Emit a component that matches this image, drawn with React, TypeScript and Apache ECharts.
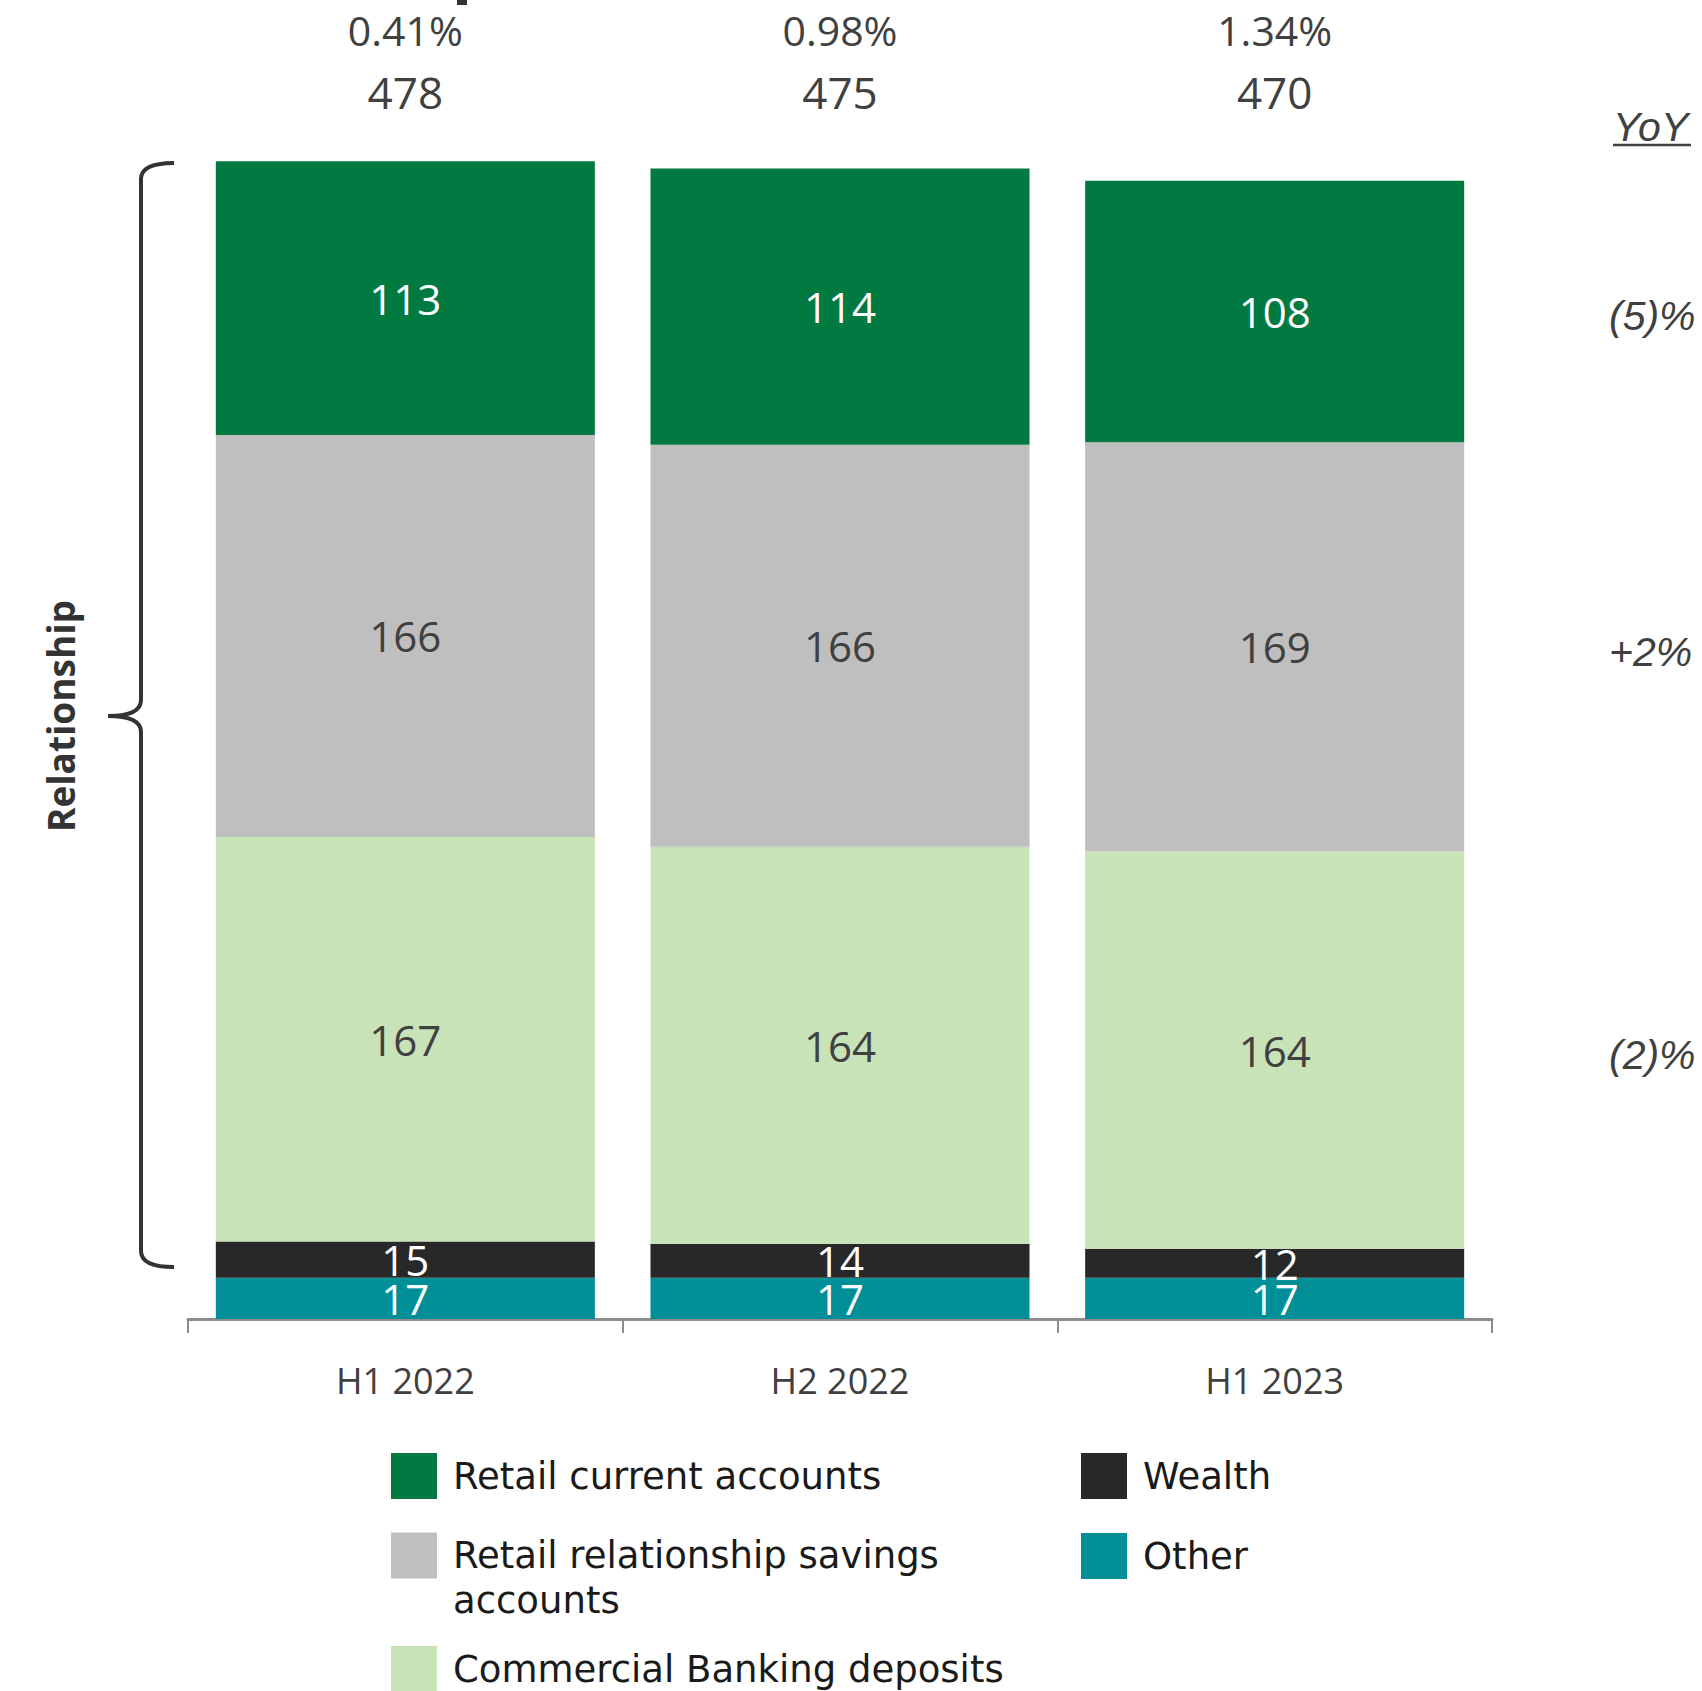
import React, { useEffect, useRef } from 'react';
import * as echarts from 'echarts';

const categories = ['H1 2022', 'H2 2022', 'H1 2023'];
const otherValues = [17, 17, 17];
const wealthValues = [15, 14, 12];
const commercialValues = [167, 164, 164];
const savingsValues = [166, 166, 169];
const retailCurrentValues = [113, 114, 108];
const marginLabels = ['0.41%', '0.98%', '1.34%'];
// YoY change for the latest period, per series
const yoyRetailCurrent = '(5)%';
const yoySavings = '+2%';
const yoyCommercial = '(2)%';

const FONT = "'Open Sans', 'Noto Sans', sans-serif";
const LEGEND_FONT = "'DejaVu Sans', 'Open Sans', sans-serif";
const ITALIC_FONT = "'Liberation Sans', Arial, sans-serif";

const NAME_RETAIL = 'Retail current accounts';
const NAME_SAVINGS = 'Retail relationship savings accounts';
const NAME_COMMERCIAL = 'Commercial Banking deposits';
const NAME_WEALTH = 'Wealth';
const NAME_OTHER = 'Other';

const C_RETAIL = '#007A40';
const C_SAVINGS = '#BFBFBF';
const C_COMMERCIAL = '#C8E3B7';
const C_WEALTH = '#282828';
const C_OTHER = '#008F96';

const Brace = echarts.graphic.extendShape({
  shape: { x: 0, top: 0, bottom: 0, mid: 0, tip: 0, serif: 0, r: 0 },
  buildPath(ctx: any, s: any) {
    ctx.moveTo(s.serif, s.top);
    ctx.quadraticCurveTo(s.x, s.top, s.x, s.top + s.r);
    ctx.lineTo(s.x, s.mid - s.r);
    ctx.quadraticCurveTo(s.x, s.mid, s.tip, s.mid);
    ctx.moveTo(s.tip, s.mid);
    ctx.quadraticCurveTo(s.x, s.mid, s.x, s.mid + s.r);
    ctx.lineTo(s.x, s.bottom - s.r);
    ctx.quadraticCurveTo(s.x, s.bottom, s.serif, s.bottom);
  },
});
echarts.graphic.registerShape('brace', Brace as any);

export default function App() {
  const ref = useRef<HTMLDivElement>(null);

  useEffect(() => {
    document.body.style.margin = '0';
    if (!ref.current) return;
    const chart = echarts.init(ref.current, null, { renderer: 'svg' });

    const totals = categories.map(
      (_, i) =>
        otherValues[i] + wealthValues[i] + commercialValues[i] + savingsValues[i] + retailCurrentValues[i]
    );

    const barSeries = (name: string, data: number[], color: string, labelColor: string) => ({
      name,
      type: 'bar',
      stack: 'total',
      data,
      barWidth: '87.2%',
      xAxisIndex: 0,
      yAxisIndex: 0,
      itemStyle: { color },
      label: {
        show: true,
        position: 'inside',
        color: labelColor,
        fontSize: 42,
        fontFamily: FONT,
      },
    });

    const legendItem = (name: string, left: number, top: number, extra: any = {}) => ({
      data: [name],
      left,
      top,
      padding: 0,
      itemWidth: 46,
      itemHeight: 46,
      itemGap: 0,
      icon: 'rect',
      ...extra,
      textStyle: {
        fontSize: 37,
        color: '#1a1a1a',
        fontFamily: LEGEND_FONT,
        padding: [0, 0, 0, 11],
        ...(extra.textStyle || {}),
      },
    });

    const option: any = {
      animation: false,
      backgroundColor: '#ffffff',
      grid: { left: 188, right: 210, top: 108, bottom: 372, containLabel: false },
      xAxis: [
        {
          type: 'category',
          data: categories,
          position: 'bottom',
          axisLine: { show: true, lineStyle: { color: '#8c8c8c', width: 3 } },
          axisTick: { show: true, length: 14, lineStyle: { color: '#8c8c8c', width: 2 } },
          axisLabel: { color: '#404040', fontSize: 36, fontFamily: FONT, margin: 43 },
        },
        {
          type: 'category',
          data: categories,
          position: 'top',
          axisLine: { show: false },
          axisTick: { show: false },
          axisLabel: {
            margin: -15,
            formatter: (_v: string, i: number) => `{p|${marginLabels[i]}}\n{t|${totals[i]}}`,
            rich: {
              p: { fontSize: 41, lineHeight: 62, color: '#404040', fontFamily: FONT },
              t: { fontSize: 44, lineHeight: 62, color: '#404040', fontFamily: FONT },
            },
          },
        },
      ],
      yAxis: { type: 'value', min: 0, max: 500, show: false, splitLine: { show: false } },
      legend: [
        legendItem(NAME_RETAIL, 391, 1453),
        legendItem(NAME_SAVINGS, 391, 1488, {
          formatter: () => '\nRetail relationship savings\naccounts',
          textStyle: { lineHeight: 45 },
        }),
        legendItem(NAME_COMMERCIAL, 391, 1646),
        legendItem(NAME_WEALTH, 1081, 1453),
        legendItem(NAME_OTHER, 1081, 1533),
      ],
      series: [
        barSeries(NAME_OTHER, otherValues, C_OTHER, '#ffffff'),
        barSeries(NAME_WEALTH, wealthValues, C_WEALTH, '#ffffff'),
        barSeries(NAME_COMMERCIAL, commercialValues, C_COMMERCIAL, '#404040'),
        barSeries(NAME_SAVINGS, savingsValues, C_SAVINGS, '#404040'),
        barSeries(NAME_RETAIL, retailCurrentValues, C_RETAIL, '#ffffff'),
      ],
    };

    chart.setOption(option);

    // YoY annotations aligned with the latest period's segments
    const last = categories.length - 1;
    const stack = [
      { v: otherValues[last], t: '' },
      { v: wealthValues[last], t: '' },
      { v: commercialValues[last], t: yoyCommercial },
      { v: savingsValues[last], t: yoySavings },
      { v: retailCurrentValues[last], t: yoyRetailCurrent },
    ];
    let base = 0;
    const yoyTexts: any[] = [];
    stack.forEach((s) => {
      const p = chart.convertToPixel({ xAxisIndex: 0, yAxisIndex: 0 }, [last, base + s.v / 2]) as number[];
      base += s.v;
      if (s.t) {
        yoyTexts.push({
          type: 'text',
          x: 1609,
          y: p[1] + 5,
          style: {
            text: s.t,
            fontSize: 41,
            fontStyle: 'italic',
            fontFamily: ITALIC_FONT,
            fill: '#404040',
            verticalAlign: 'middle',
            align: 'left',
          },
        });
      }
    });

    chart.setOption({
      graphic: [
        ...yoyTexts,
        {
          type: 'text',
          x: 1613,
          y: 127,
          style: {
            text: 'YoY',
            fontSize: 41,
            fontStyle: 'italic',
            fontFamily: ITALIC_FONT,
            fill: '#404040',
            verticalAlign: 'middle',
            align: 'left',
          },
        },
        {
          type: 'line',
          shape: { x1: 1613, y1: 145, x2: 1691, y2: 145 },
          style: { stroke: '#404040', lineWidth: 2.5 },
        },
        {
          type: 'brace',
          shape: { x: 141, top: 163, bottom: 1267, mid: 716, tip: 108, serif: 174, r: 16 },
          style: { stroke: '#333333', lineWidth: 4, fill: 'none' },
        },
        {
          type: 'text',
          x: 60,
          y: 716,
          rotation: Math.PI / 2,
          style: {
            text: 'Relationship',
            fontSize: 37,
            fontWeight: 'bold',
            fontFamily: FONT,
            fill: '#333333',
            align: 'center',
            verticalAlign: 'middle',
          },
        },
        {
          type: 'rect',
          shape: { x: 457, y: 0, width: 10, height: 5 },
          style: { fill: '#333333' },
        },
      ],
    });

    return () => chart.dispose();
  }, []);

  return <div ref={ref} style={{ width: 1702, height: 1691 }} />;
}
